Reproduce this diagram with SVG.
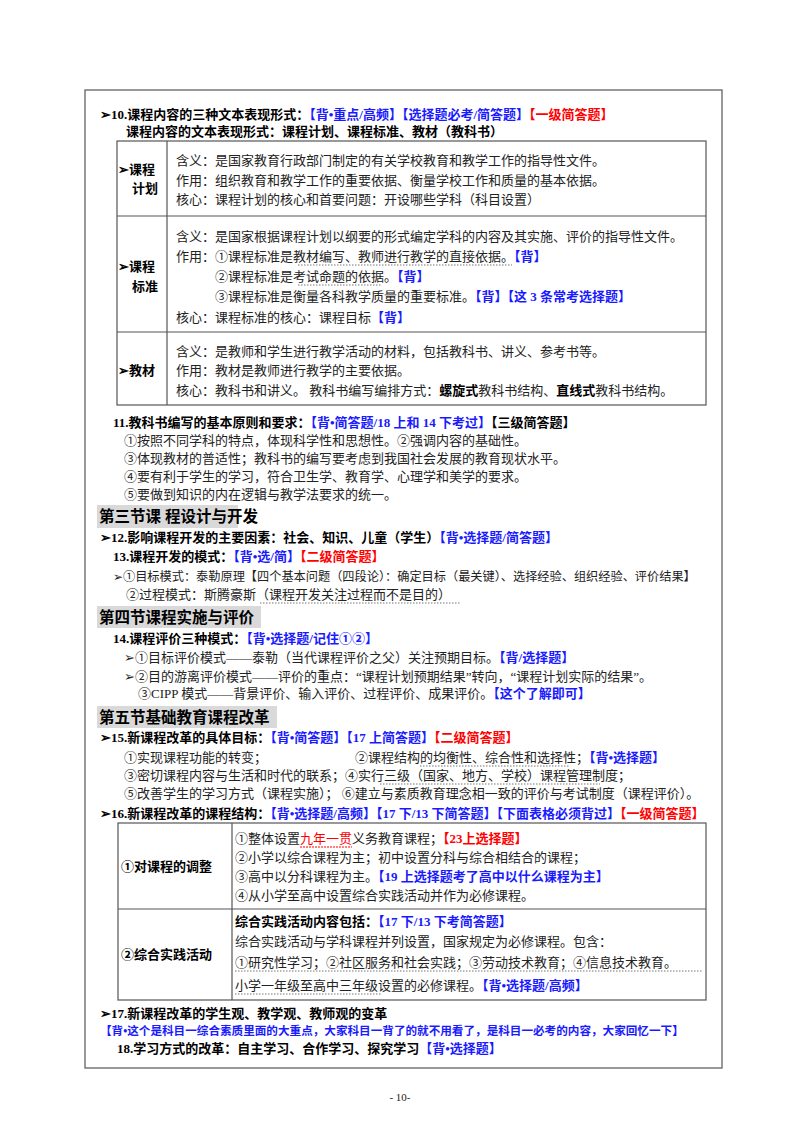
<svg xmlns="http://www.w3.org/2000/svg" width="800" height="1132" viewBox="0 0 800 1132">
<style>
text{font-family:"Liberation Serif","Noto Sans CJK SC",serif;font-size:13px;fill:#222}
.b{font-weight:bold;fill:#000}
.bl{fill:#1a1aff;font-weight:bold}
.rd{fill:#ff0000;font-weight:bold}
.h{font-size:15.5px;font-weight:bold;fill:#000}
.ln{stroke:#555;stroke-width:1.2;fill:none}
.dt{stroke:#777;stroke-width:1;stroke-dasharray:1.5 1.5;fill:none}
</style>
<rect width="800" height="1132" fill="#fff"/>
<rect x="85" y="90" width="637" height="978" class="ln"/>
<g id="s10">
<text x="100" y="119" class="b">➢10.课程内容的三种文本表现形式：<tspan class="bl">【背•重点/高频】【选择题必考/简答题】</tspan><tspan class="rd">【一级简答题】</tspan></text>
<text x="126" y="136" class="b">课程内容的文本表现形式：课程计划、课程标准、教材（教科书）</text>
</g>
<g id="table1">
<rect x="117" y="141" width="589" height="264" class="ln"/>
<line x1="167" y1="141" x2="167" y2="405" class="ln"/>
<line x1="117" y1="216" x2="706" y2="216" class="ln"/>
<line x1="117" y1="332" x2="706" y2="332" class="ln"/>
<text x="118" y="174" class="b">➢课程</text><text x="132" y="193" class="b">计划</text>
<text x="176" y="165">含义：是国家教育行政部门制定的有关学校教育和教学工作的指导性文件。</text>
<text x="176" y="185">作用：组织教育和教学工作的重要依据、衡量学校工作和质量的基本依据。</text>
<text x="176" y="204">核心：课程计划的核心和首要问题：开设哪些学科（科目设置）</text>
<text x="118" y="271" class="b">➢课程</text><text x="132" y="291" class="b">标准</text>
<text x="176" y="241">含义：是国家根据课程计划以纲要的形式编定学科的内容及其实施、评价的指导性文件。</text>
<text x="176" y="261">作用：①课程标准是教材编写、教师进行教学的直接依据。<tspan class="bl">【背】</tspan></text>
<text x="215" y="281">②课程标准是考试命题的依据。<tspan class="bl">【背】</tspan></text>
<text x="215" y="301">③课程标准是衡量各科教学质量的重要标准。<tspan class="bl">【背】【这 3 条常考选择题】</tspan></text>
<text x="176" y="322">核心：课程标准的核心：课程目标<tspan class="bl">【背】</tspan></text>
<line x1="298" y1="265" x2="512" y2="265" class="dt"/>
<line x1="298" y1="285" x2="382" y2="285" class="dt"/>
<text x="118" y="375" class="b">➢教材</text>
<text x="176" y="356">含义：是教师和学生进行教学活动的材料，包括教科书、讲义、参考书等。</text>
<text x="176" y="375">作用：教材是教师进行教学的主要依据。</text>
<text x="176" y="395">核心：教科书和讲义。 教科书编写编排方式：<tspan class="b">螺旋式</tspan>教科书结构、<tspan class="b">直线式</tspan>教科书结构。</text>
</g>
<g id="s11">
<text x="113" y="427" class="b">11.教科书编写的基本原则和要求：<tspan class="bl">【背•简答题/18 上和 14 下考过】</tspan><tspan fill="#000">【三级简答题】</tspan></text>
<text x="124" y="445">①按照不同学科的特点，体现科学性和思想性。②强调内容的基础性。</text>
<text x="124" y="463">③体现教材的普适性；教科书的编写要考虑到我国社会发展的教育现状水平。</text>
<text x="124" y="481">④要有利于学生的学习，符合卫生学、教育学、心理学和美学的要求。</text>
<text x="124" y="499">⑤要做到知识的内在逻辑与教学法要求的统一。</text>
</g>
<g id="sec3">
<rect x="97" y="505" width="141" height="23" fill="#d9d9d9"/>
<text x="99" y="522" class="h">第三节课 程设计与开发</text>
<text x="100" y="542" class="b">➢12.影响课程开发的主要因素：社会、知识、儿童（学生）<tspan class="bl">【背•选择题/简答题】</tspan></text>
<text x="113" y="561" class="b">13.课程开发的模式：<tspan class="bl">【背•选/简】</tspan><tspan class="rd">【二级简答题】</tspan></text>
<text x="113" y="581" style="font-size:12.2px">➢①目标模式：泰勒原理【四个基本问题（四段论）：确定目标（最关键）、选择经验、组织经验、评价结果】</text>
<text x="126" y="599">②过程模式：斯腾豪斯（课程开发关注过程而不是目的）</text>
<line x1="260" y1="603" x2="460" y2="603" class="dt"/>
</g>
<g id="sec4">
<rect x="97" y="606" width="164" height="22" fill="#d9d9d9"/>
<text x="99" y="623" class="h">第四节课程实施与评价</text>
<text x="113" y="643" class="b">14.课程评价三种模式：<tspan class="bl">【背•选择题/记住①②】</tspan></text>
<text x="124" y="662">➢①目标评价模式——泰勒（当代课程评价之父）关注预期目标。<tspan class="bl">【背/选择题】</tspan></text>
<text x="124" y="681">➢②目的游离评价模式——评价的重点：“课程计划预期结果”转向，“课程计划实际的结果”。</text>
<text x="138" y="698">③CIPP 模式——背景评价、输入评价、过程评价、成果评价。<tspan class="bl">【这个了解即可】</tspan></text>
</g>
<g id="sec5">
<rect x="97" y="706" width="180" height="22" fill="#d9d9d9"/>
<text x="99" y="723" class="h">第五节基础教育课程改革</text>
<text x="100" y="742" class="b">➢15.新课程改革的具体目标：<tspan class="bl">【背•简答题】【17 上简答题】</tspan><tspan class="rd">【二级简答题】</tspan></text>
<text x="124" y="762">①实现课程功能的转变；</text>
<text x="355" y="762">②课程结构的均衡性、综合性和选择性；<tspan class="bl">【背•选择题】</tspan></text>
<text x="124" y="780">③密切课程内容与生活和时代的联系；④实行三级（国家、地方、学校）课程管理制度；</text>
<text x="124" y="798">⑤改善学生的学习方式（课程实施）； ⑥建立与素质教育理念相一致的评价与考试制度（课程评价）。</text>
<line x1="420" y1="766" x2="570" y2="766" class="dt"/>
<line x1="380" y1="784" x2="600" y2="784" class="dt"/>
<text x="100" y="818" class="b">➢16.新课程改革的课程结构：<tspan class="bl">【背•选择题/高频】【17 下/13 下简答题】【下面表格必须背过】</tspan><tspan class="rd">【一级简答题】</tspan></text>
</g>
<g id="table2">
<rect x="118" y="823" width="588" height="177" class="ln"/>
<line x1="232" y1="823" x2="232" y2="1000" class="ln"/>
<line x1="118" y1="909" x2="706" y2="909" class="ln"/>
<text x="121" y="871" class="b">①对课程的调整</text>
<text x="235" y="843">①整体设置<tspan fill="#ff0000">九年一贯</tspan>义务教育课程；<tspan class="rd">【23上选择题】</tspan></text>
<line x1="300" y1="847" x2="352" y2="847" stroke="#ff0000" stroke-width="1" stroke-dasharray="2 1"/>
<text x="235" y="862">②小学以综合课程为主；初中设置分科与综合相结合的课程；</text>
<text x="235" y="881">③高中以分科课程为主。<tspan class="bl">【19 上选择题考了高中以什么课程为主】</tspan></text>
<text x="235" y="900">④从小学至高中设置综合实践活动并作为必修课程。</text>
<text x="121" y="959" class="b">②综合实践活动</text>
<text x="235" y="926" class="b">综合实践活动内容包括：<tspan class="bl">【17 下/13 下考简答题】</tspan></text>
<text x="235" y="946">综合实践活动与学科课程并列设置，国家规定为必修课程。包含：</text>
<text x="235" y="967">①研究性学习；②社区服务和社会实践；③劳动技术教育；④信息技术教育。</text>
<line x1="235" y1="971" x2="703" y2="971" class="dt"/>
<text x="235" y="990">小学一年级至高中三年级设置的必修课程。<tspan class="bl">【背•选择题/高频】</tspan></text>
<line x1="235" y1="994" x2="382" y2="994" class="dt"/>
</g>
<g id="s17">
<text x="100" y="1018" class="b">➢17.新课程改革的学生观、教学观、教师观的变革</text>
<text x="100" y="1035" class="bl" style="font-size:11.6px">【背•这个是科目一综合素质里面的大重点，大家科目一背了的就不用看了，是科目一必考的内容，大家回忆一下】</text>
<text x="117" y="1053" class="b">18.学习方式的改革：自主学习、合作学习、探究学习<tspan class="bl">【背•选择题】</tspan></text>
</g>
<text x="400" y="1101" text-anchor="middle" style="font-size:11px">- 10-</text>
</svg>
